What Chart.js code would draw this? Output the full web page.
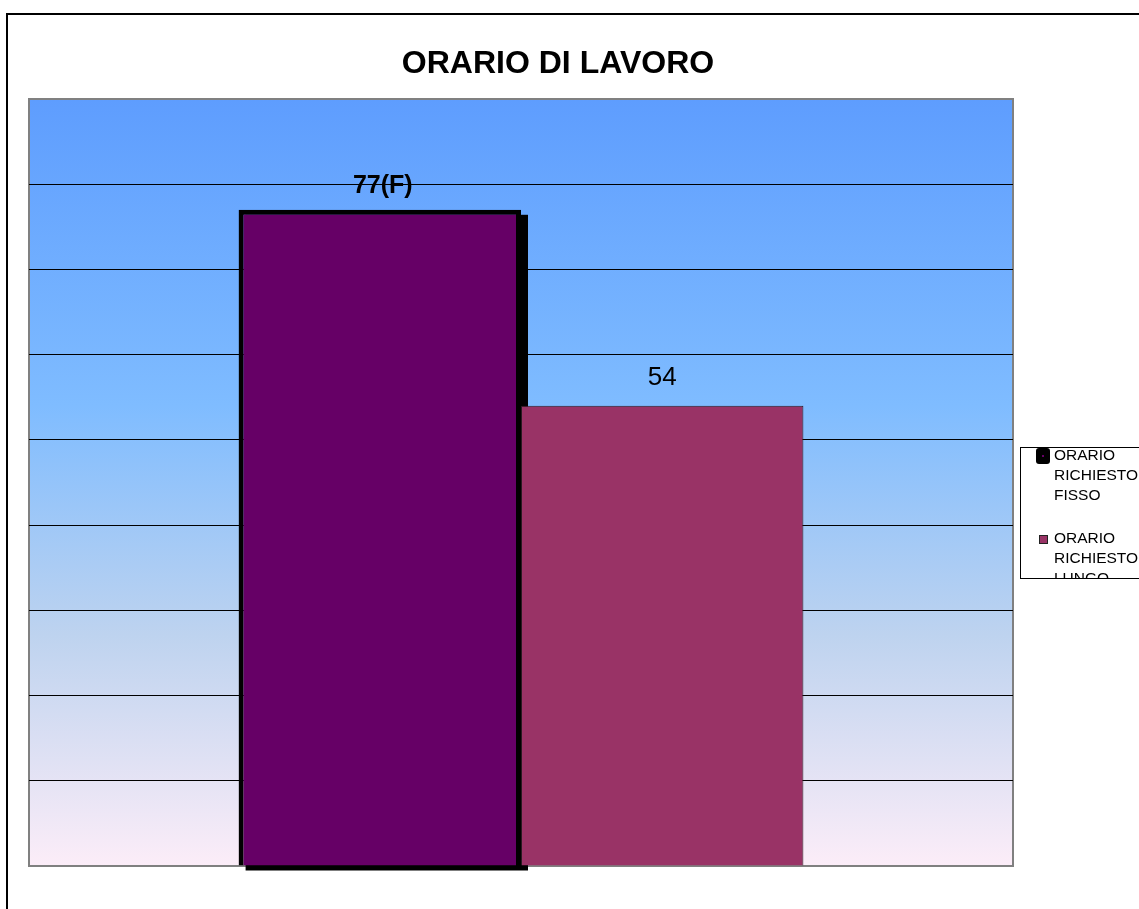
<!DOCTYPE html>
<html>
<head>
<meta charset="utf-8">
<title>ORARIO DI LAVORO</title>
<script src="https://cdn.jsdelivr.net/npm/chart.js@4.4.1/dist/chart.umd.min.js"></script>
<style>
	html, body { margin: 0; padding: 0; background: #fff; }
	#wrap { width: 1139px; height: 909px; }
</style>
</head>
<body>
<div id="wrap"><canvas id="orario" width="1139" height="909"></canvas></div>
<script>
var titleText = "ORARIO DI LAVORO";
var categories = ["ORARIO DI LAVORO"];
var seriesNames = ["ORARIO RICHIESTO FISSO", "ORARIO RICHIESTO LUNGO"];
var fissoValues = [77];
var lungoValues = [54];
var valueLabels = ["77(F)", "54"];
var yMin = 0, yMax = 90, yStep = 10;

var FONT = "'Liberation Sans', Arial, sans-serif";

// background, frame and shadow behind the first bar
var decor = {
	id: "decor",
	beforeDraw: function(chart) {
		var c = chart.ctx, a = chart.chartArea;
		c.save();
		c.fillStyle = "#fff";
		c.fillRect(0, 0, chart.width, chart.height);
		c.strokeStyle = "#000";
		c.lineWidth = 2;
		c.strokeRect(7, 14, 1300, 1100);
		var g = c.createLinearGradient(0, a.top, 0, a.bottom);
		g.addColorStop(0, "#5e9dfe");
		g.addColorStop(0.4, "#7fbcff");
		g.addColorStop(0.7, "#bed3ef");
		g.addColorStop(1, "#fcedf8");
		c.fillStyle = g;
		c.fillRect(a.left, a.top, a.right - a.left, a.bottom - a.top);
		c.strokeStyle = "#808080";
		c.lineWidth = 2;
		c.strokeRect(a.left, a.top, a.right - a.left, a.bottom - a.top);
		c.restore();
	},
	beforeDatasetsDraw: function(chart) {
		var c = chart.ctx;
		var bar = chart.getDatasetMeta(0).data[0];
		if (!bar) return;
		c.save();
		c.fillStyle = "#000";
		c.fillRect(bar.x - bar.width / 2 + 7, bar.y + 5, bar.width, bar.base - bar.y);
		c.restore();
	},
	afterDraw: function(chart) {
		var c = chart.ctx;
		c.save();
		// title
		c.fillStyle = "#000";
		c.font = "bold 32px " + FONT;
		c.textAlign = "center";
		c.textBaseline = "middle";
		c.fillText(titleText, 558, 64);

		// value labels
		var sizes = ["bold 25px ", "26px "], gaps = [24, 28], dx = [3, 0];
		chart.data.datasets.forEach(function(ds, i) {
			var bar = chart.getDatasetMeta(i).data[0];
			c.font = sizes[i] + FONT;
			c.fillText(valueLabels[i], bar.x + dx[i], bar.y - gaps[i]);
		});

		// legend (cut off on the right, as in the picture)
		var bx = 1020, by = 447, bw = 140, bh = 131;
		c.fillStyle = "#fff";
		c.fillRect(bx, by, bw, bh);
		c.beginPath();
		c.rect(bx, by, bw, bh);
		c.clip();
		c.textAlign = "left";
		c.font = "15.5px " + FONT;
		var starts = [456, 539];
		chart.data.datasets.forEach(function(ds, i) {
			var y0 = starts[i];
			if (i === 0) {
				c.fillStyle = "#000";
				c.beginPath();
				c.roundRect(1036, y0 - 8, 14, 16, 3);
				c.fill();
				c.fillStyle = ds.backgroundColor;
				c.fillRect(1042, y0 - 1, 2, 2);
			} else {
				c.fillStyle = ds.backgroundColor;
				c.fillRect(1039, y0 - 4, 9, 9);
				c.strokeStyle = "#222";
				c.lineWidth = 1;
				c.strokeRect(1039.5, y0 - 3.5, 8, 8);
			}
			c.fillStyle = "#000";
			ds.label.split(" ").forEach(function(w, k) {
				c.fillText(w, 1054, y0 + k * 20);
			});
		});
		c.restore();
		c.save();
		c.strokeStyle = "#000";
		c.lineWidth = 1;
		c.strokeRect(bx + 0.5, by + 0.5, bw, bh);
		c.restore();
	}
};

var ctx = document.getElementById("orario");

var OrarioChart = new Chart(ctx, {
	type: "bar",
	data: {
		labels: categories,
		datasets: [
			{
				label: seriesNames[0],
				data: fissoValues,
				backgroundColor: "#660066",
				borderColor: "#000",
				borderWidth: 5
			},
			{
				label: seriesNames[1],
				data: lungoValues,
				backgroundColor: "#993366",
				borderColor: "#2a1a22",
				borderWidth: 1
			}
		]
	},
	options: {
		responsive: false,
		animation: false,
		devicePixelRatio: 1,
		categoryPercentage: 0.574,
		barPercentage: 1,
		layout: { padding: { left: 29, top: 99, right: 126, bottom: 43 } },
		plugins: {
			legend: { display: false },
			title: { display: false },
			tooltip: { enabled: false }
		},
		scales: {
			x: { display: false },
			y: {
				min: yMin,
				max: yMax,
				ticks: { display: false, stepSize: yStep },
				border: { display: false },
				grid: {
					drawTicks: false,
					lineWidth: 1,
					color: function(c) {
						var v = c.tick ? c.tick.value : 0;
						return (v === yMin || v === yMax) ? "rgba(0,0,0,0)" : "#000";
					}
				}
			}
		}
	},
	plugins: [decor]
});
</script>
</body>
</html>
